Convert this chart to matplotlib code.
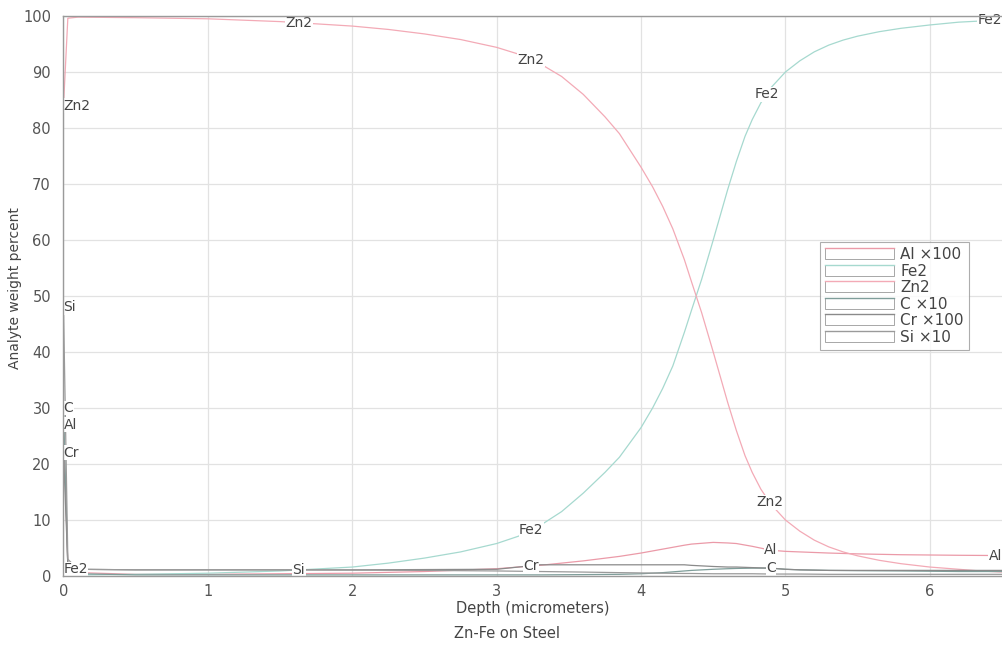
import numpy as np
import matplotlib
matplotlib.use("Agg")
import matplotlib.pyplot as plt
from matplotlib.legend_handler import HandlerBase
from matplotlib.patches import Rectangle
from matplotlib.lines import Line2D

# Sputter depth profile: Zn-Fe coating on steel
# major constituents, sampled densely through the interface
depth_major = [0.0, 0.03, 0.1, 0.5, 1.0, 1.5, 2.0, 2.25, 2.5, 2.75, 3.0, 3.15, 3.3,
               3.45, 3.6, 3.75, 3.85, 4.0, 4.08, 4.15, 4.22, 4.3, 4.35, 4.42, 4.5,
               4.55, 4.6, 4.66, 4.72, 4.77, 4.83, 4.9, 5.0, 5.1, 5.2, 5.3, 5.4, 5.5,
               5.65, 5.8, 5.9, 6.0, 6.2, 6.35, 6.5]
zn2 = [84, 99.6, 99.8, 99.7, 99.5, 99.0, 98.2, 97.6, 96.8, 95.8, 94.4, 93.2, 91.5,
       89.2, 86, 82, 79, 73, 69.5, 66, 62, 56.5, 52.5, 47, 40,
       35.5, 31, 26, 21.5, 18.5, 15.5, 12.8, 10, 8, 6.4, 5.2, 4.3, 3.6,
       2.8, 2.2, 1.9, 1.6, 1.2, 0.9, 0.7]
fe2 = [1.2, 0.3, 0.2, 0.3, 0.5, 0.9, 1.6, 2.3, 3.2, 4.3, 5.8, 7.1, 9.0,
       11.5, 14.8, 18.5, 21.2, 26.5, 30, 33.5, 37.5, 43.5, 47.5, 53, 60,
       64.5, 69, 74, 78.5, 81.5, 84.5, 87.2, 90, 92, 93.6, 94.8, 95.7, 96.4,
       97.2, 97.8, 98.1, 98.4, 98.9, 99.1, 99.2]

# minor constituents (scaled)
depth_minor = [0.0, 0.03, 0.1, 0.5, 1.0, 1.5, 2.0, 2.5, 3.0, 3.3, 3.6, 3.85, 4.0, 4.15,
               4.3, 4.35, 4.5, 4.6, 4.66, 4.77, 4.9, 5.0, 5.1, 5.3, 5.5, 5.8, 6.0, 6.2, 6.5]
al_x100 = [27, 2.0, 0.6, 0.3, 0.3, 0.4, 0.5, 0.8, 1.3, 1.9, 2.7, 3.5, 4.1, 4.8,
           5.5, 5.7, 6.0, 5.9, 5.8, 5.3, 4.6, 4.4, 4.3, 4.1, 3.95, 3.8, 3.75, 3.7, 3.65]
c_x10 = [30, 1.5, 0.4, 0.2, 0.2, 0.2, 0.2, 0.2, 0.2, 0.2, 0.25, 0.3, 0.4, 0.6,
         0.9, 1.0, 1.2, 1.3, 1.35, 1.4, 1.4, 1.2, 1.1, 1.0, 0.95, 0.9, 0.85, 0.8, 0.8]
cr_x100 = [22, 2.0, 1.2, 1.1, 1.1, 1.1, 1.1, 1.15, 1.2, 2.0, 2.0, 2.0, 2.0, 2.0,
           2.0, 1.9, 1.7, 1.6, 1.6, 1.5, 1.4, 1.2, 1.1, 1.0, 1.0, 1.0, 1.0, 1.0, 1.0]
si_x10 = [48, 3.0, 1.2, 1.1, 1.1, 1.1, 1.05, 1.0, 0.9, 0.8, 0.7, 0.6, 0.55, 0.5,
          0.45, 0.45, 0.4, 0.4, 0.4, 0.4, 0.35, 0.35, 0.35, 0.3, 0.3, 0.3, 0.3, 0.3, 0.3]

series_names = ["Al \u00d7100", "Fe2", "Zn2", "C \u00d710", "Cr \u00d7100", "Si \u00d710"]
short_names = ["Al", "Fe2", "Zn2", "C", "Cr", "Si"]
series_depths = [depth_minor, depth_major, depth_major, depth_minor, depth_minor, depth_minor]
series_values = [al_x100, fe2, zn2, c_x10, cr_x100, si_x10]
series_colors = ["#eb9aa8", "#a6d9cf", "#f3aab6", "#7f9e9a", "#8a8a8a", "#9a9a9a"]

# depths at which each trace carries its name
label_depths = {
    "Al": [0.0, 4.9, 6.5],
    "Fe2": [0.0, 3.24, 4.87, 6.5],
    "Zn2": [0.0, 1.63, 3.24, 4.89],
    "C": [0.0, 4.9],
    "Cr": [0.0, 3.24],
    "Si": [0.0, 1.63],
}

x_ticks = [0, 1, 2, 3, 4, 5, 6]
y_ticks = [0, 10, 20, 30, 40, 50, 60, 70, 80, 90, 100]

W, H = 1002, 647
fig = plt.figure(figsize=(W / 100, H / 100), dpi=100)
ax = fig.add_axes([63.5 / W, 1 - 576 / H, 1 - 63.5 / W, (576 - 16) / H])

for xs, vals, col in zip(series_depths, series_values, series_colors):
    ax.plot(xs, vals, color=col, lw=0.9, solid_joinstyle="round")

ax.set_xlim(0, 6.5)
ax.set_ylim(0, 100)
ax.set_xticks(x_ticks)
ax.set_yticks(y_ticks)
ax.grid(True, color="#e2e2e2", lw=0.9)
ax.set_axisbelow(True)
ax.tick_params(length=0, labelsize=10.5, labelcolor="#555555")
ax.tick_params(axis="y", pad=9)
ax.tick_params(axis="x", pad=6)
for side in ["left", "bottom", "top"]:
    ax.spines[side].set_color("#9a9a9a")
    ax.spines[side].set_linewidth(1.0)
    ax.spines[side].set_zorder(6)
ax.spines["right"].set_visible(False)

# inline trace names
x_lo, x_hi = ax.get_xlim()
for name, xs, vals in zip(short_names, series_depths, series_values):
    for xd in label_depths[name]:
        yv = float(np.interp(xd, xs, vals))
        ha = "left" if xd <= x_lo else ("right" if xd >= x_hi else "center")
        ax.text(xd, yv, name, ha=ha, va="center", fontsize=10, color="#444444",
                bbox=dict(facecolor="white", edgecolor="none", pad=0.3), zorder=5,
                clip_on=False)


class BoxLineHandler(HandlerBase):
    def create_artists(self, legend, orig_handle, xdescent, ydescent, width,
                       height, fontsize, trans):
        rect = Rectangle((-xdescent, -ydescent), width, height, facecolor="white",
                         edgecolor="#999999", lw=0.6, transform=trans)
        top = Line2D([-xdescent, -xdescent + width],
                     [-ydescent + height, -ydescent + height],
                     color=orig_handle.get_color(), lw=1.0, transform=trans)
        return [rect, top]


handles = [Line2D([], [], color=c) for c in series_colors]
leg = ax.legend(handles, series_names, loc="upper left",
                bbox_to_anchor=(0.806, 0.597), fontsize=11, frameon=True,
                fancybox=False, handlelength=4.5, handleheight=0.75,
                labelspacing=0.1, handletextpad=0.4, borderpad=0.35,
                borderaxespad=0, handler_map={Line2D: BoxLineHandler()})
leg.get_frame().set_edgecolor("#999999")
leg.get_frame().set_linewidth(0.8)
for t in leg.get_texts():
    t.set_color("#444444")

ax.set_xlabel("Depth (micrometers)", fontsize=10.5, color="#444444", labelpad=1)
fig.text(15 / W, 1 - 288 / H, "Analyte weight percent", rotation=90,
         ha="center", va="center", fontsize=10, color="#444444",
         family=["Liberation Sans Narrow", "DejaVu Sans"])
fig.text(507 / W, 1 - 634 / H, "Zn-Fe on Steel", ha="center", va="center",
         fontsize=10.5, color="#444444")

fig.savefig("out.png", dpi=100)
